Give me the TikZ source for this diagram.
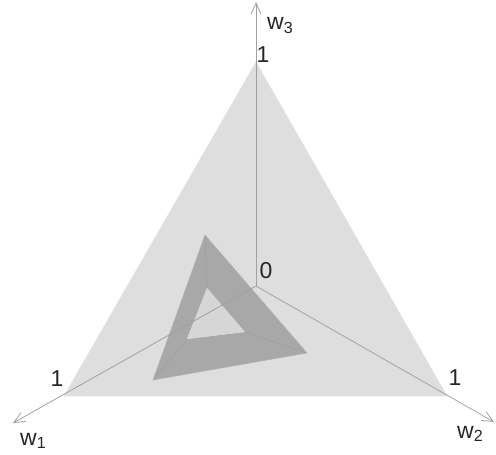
\documentclass[tikz,border=0pt]{standalone}
\usepackage{fontspec}
\setmainfont{Liberation Sans}
\usetikzlibrary{arrows.meta}
\definecolor{bigfill}{RGB}{222,222,222}
\definecolor{framefill}{RGB}{168,168,168}
\definecolor{holefill}{RGB}{214,214,214}
\definecolor{axiscol}{RGB}{160,160,160}
\begin{document}
\begin{tikzpicture}[x=1pt,y=-1pt,
  axis/.style={draw=axiscol,line width=0.8pt,-{Straight Barb[length=11pt,width=10pt]}},
  lbl/.style={font=\fontsize{23}{23}\selectfont,inner sep=0pt,text=black!85},
  edge/.style={draw=black!38,line width=0.5pt}]
\useasboundingbox (0,0) rectangle (496,455);
\coordinate (O) at (256,286);
\coordinate (A) at (64,396);
\coordinate (B) at (447,396);
\coordinate (C) at (256,62);
\coordinate (P1) at (205,235);
\coordinate (P2) at (153,380);
\coordinate (P3) at (307,353);
\coordinate (Q1) at (207,288);
\coordinate (Q2) at (187,339);
\coordinate (Q3) at (245,332);
\coordinate (E1) at (13,423);
\coordinate (E2) at (494,422);
\coordinate (E3) at (256,2);
% big triangle
\fill[bigfill] (A) -- (B) -- (C) -- cycle;
\draw[draw=white!80!gray,line width=0.6pt] (A) -- (B) -- (C) -- cycle;
% frame
\fill[framefill,even odd rule] (P1) -- (P2) -- (P3) -- cycle (Q1) -- (Q2) -- (Q3) -- cycle;
\fill[holefill] (Q1) -- (Q2) -- (Q3) -- cycle;
\draw[edge] (P1) -- (Q1) (P2) -- (Q2) (P3) -- (Q3);
\draw[draw=black!30,line width=0.5pt] (P1) -- (P2) -- (P3) -- cycle;
% axes
\draw[axis] (O) -- (E3);
\draw[axis] (O) -- (E1);
\draw[axis] (O) -- (E2);
% labels
\node[lbl] (l0) at (266,271) {0};
\node[lbl] (l3) at (263,55) {1};
\node[lbl] (l1) at (57,379) {1};
\node[lbl] (l2) at (455,378) {1};
\node[lbl,anchor=base west] (w3) at (267,30) {w\textsubscript{3}};
\node[lbl,anchor=base west] (w1) at (20,445) {w\textsubscript{1}};
\node[lbl,anchor=base west] (w2) at (457,438) {w\textsubscript{2}};
\end{tikzpicture}
\end{document}
